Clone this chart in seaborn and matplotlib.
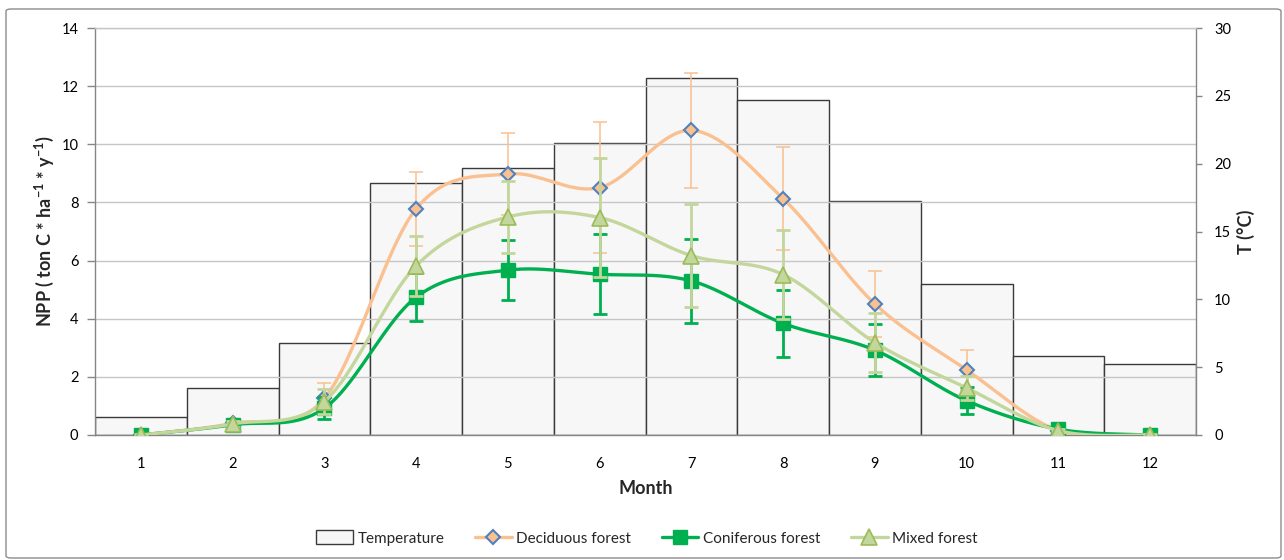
import numpy as np
import pandas as pd
import matplotlib
matplotlib.use("Agg")
import matplotlib.pyplot as plt
import seaborn as sns
from matplotlib.lines import Line2D
from matplotlib.patches import Patch, FancyBboxPatch

# ---- data ----
months = [1, 2, 3, 4, 5, 6, 7, 8, 9, 10, 11, 12]
temperature = [1.35, 3.5, 6.75, 18.6, 19.65, 21.5, 26.35, 24.7, 17.25, 11.1, 5.85, 5.2]

deciduous = [0.0, 0.40, 1.26, 7.78, 8.98, 8.51, 10.48, 8.13, 4.51, 2.24, 0.15, 0.0]
deciduous_err = [0.03, 0.08, 0.52, 1.27, 1.40, 2.26, 1.97, 1.77, 1.13, 0.68, 0.05, 0.02]

coniferous = [0.0, 0.35, 0.92, 4.74, 5.67, 5.53, 5.30, 3.84, 2.92, 1.18, 0.20, 0.0]
coniferous_err = [0.03, 0.08, 0.38, 0.82, 1.04, 1.38, 1.44, 1.14, 0.89, 0.47, 0.06, 0.02]

mixed = [0.0, 0.38, 1.15, 5.82, 7.50, 7.48, 6.17, 5.52, 3.18, 1.62, 0.15, 0.0]
mixed_err = [0.03, 0.10, 0.42, 1.04, 1.24, 2.06, 1.78, 1.53, 1.03, 0.40, 0.05, 0.02]

# ---- style ----
sns.set_theme(style="white")
plt.rcParams["font.family"] = ["Lato", "DejaVu Sans"]
plt.rcParams["mathtext.fontset"] = "custom"
plt.rcParams["mathtext.rm"] = "Lato"
plt.rcParams["mathtext.bf"] = "Lato:bold"

AXIS_GREY = "#868686"
GRID_GREY = "#c6c6c6"
C_DEC = "#fac090"
C_DEC_EDGE = "#4f81bd"
C_CON = "#00b050"
C_MIX = "#c3d69b"
C_MIX_EDGE = "#9bbb59"
TICK_FS = 10.5
LABEL_FS = 13


def smooth_curve(x, y, n=40):
    """Bezier smoothing through every point (Catmull-Rom style control points)."""
    pts = np.column_stack([x, y]).astype(float)
    out = []
    m = len(pts)
    t = np.linspace(0, 1, n)[:, None]
    for i in range(m - 1):
        p0 = pts[i - 1] if i > 0 else pts[i]
        p1 = pts[i]
        p2 = pts[i + 1]
        p3 = pts[i + 2] if i + 2 < m else pts[i + 1]
        c1 = p1 + (p2 - p0) / 6.0
        c2 = p2 - (p3 - p1) / 6.0
        seg = ((1 - t) ** 3) * p1 + 3 * ((1 - t) ** 2) * t * c1 + 3 * (1 - t) * t ** 2 * c2 + t ** 3 * p2
        out.append(seg if i == 0 else seg[1:])
    seg = np.vstack(out)
    return seg[:, 0], seg[:, 1]


W, H = 1284, 560
fig = plt.figure(figsize=(W / 100, H / 100), dpi=100)
fig.patch.set_facecolor("white")

# outer chart frame
frame = FancyBboxPatch((6 / W, 2 / H), 1275 / W, 549 / H,
                       boxstyle="round,pad=0,rounding_size=0.004",
                       transform=fig.transFigure, facecolor="none",
                       edgecolor="#8c8c8c", lw=1.0, zorder=0)
fig.patches.append(frame)

ax = fig.add_axes([95 / W, 125 / H, 1101 / W, 407 / H])

# temperature bars (right-hand scale)
df_t = pd.DataFrame({"Month": months, "Temperature": temperature})
sns.barplot(data=df_t, x="Month", y="Temperature", ax=ax, width=1.0,
            color="#f7f7f7", saturation=1, edgecolor="#3a3a3a", linewidth=1.0)

# NPP curves (left-hand scale) on a twin axis drawn above the bars
ax2 = ax.twinx()

ax.set_xlim(-0.5, 11.5)
ax.set_ylim(0, 30)
ax.set_yticks(np.arange(0, 31, 5))
ax.yaxis.tick_right()
ax.yaxis.set_label_position("right")
ax.set_ylabel("T (°C)", fontsize=LABEL_FS, fontweight="bold", labelpad=4)
ax.set_xlabel("Month", fontsize=LABEL_FS, fontweight="bold", labelpad=6)
ax.set_xticks(range(12))
ax.set_xticklabels([str(m) for m in months])
ax.set_xticks(np.arange(-0.5, 12, 1), minor=True)
ax.tick_params(axis="x", which="major", length=0, pad=16, labelsize=TICK_FS, colors="#000000")
ax.tick_params(axis="x", which="minor", length=5, direction="out", color=AXIS_GREY, width=1)
ax.tick_params(axis="y", which="major", length=4, direction="out", color=AXIS_GREY,
               width=1, pad=9, labelsize=TICK_FS, labelcolor="#000000")
for s in ["left", "right", "top"]:
    ax.spines[s].set_visible(False)
ax.spines["bottom"].set_color(AXIS_GREY)
ax.spines["bottom"].set_linewidth(1)
ax.grid(False)

ax2.set_ylim(0, 14)
ax2.set_yticks(np.arange(0, 15, 2))
ax2.yaxis.tick_left()
ax2.yaxis.set_label_position("left")
ax2.set_ylabel(r"NPP ( ton C * ha$^{\mathbf{-1}}$ * y$^{\mathbf{-1}}$)",
               fontsize=LABEL_FS, fontweight="bold", labelpad=4)
ax2.tick_params(axis="y", length=6, direction="out", color=AXIS_GREY, width=1,
                pad=6, labelsize=TICK_FS, labelcolor="#000000")
ax2.set_axisbelow(True)
ax2.grid(axis="y", color=GRID_GREY, lw=1.0)
ax2.spines["left"].set_color(AXIS_GREY)
ax2.spines["right"].set_color(AXIS_GREY)
ax2.spines["top"].set_color(GRID_GREY)
ax2.spines["bottom"].set_visible(False)
for s in ["left", "right", "top"]:
    ax2.spines[s].set_linewidth(1)

xpos = np.arange(len(months))

series = [
    (deciduous, deciduous_err, C_DEC, dict(marker="D", ms=7.5, mfc=C_DEC, mec=C_DEC_EDGE, mew=1.5), 1.1, 3),
    (coniferous, coniferous_err, C_CON, dict(marker="s", ms=9.5, mfc=C_CON, mec=C_CON, mew=1.0), 2.0, 4),
    (mixed, mixed_err, C_MIX, dict(marker="^", ms=11, mfc=C_MIX, mec=C_MIX_EDGE, mew=1.2), 2.0, 5),
]
for vals, errs, col, mk, elw, z in series:
    sx, sy = smooth_curve(xpos, vals)
    ax2.plot(sx, sy, color=col, lw=2.4, zorder=z, solid_capstyle="round")
    ax2.errorbar(xpos, vals, yerr=errs, fmt="none", ecolor=col, elinewidth=elw,
                 capsize=5, capthick=elw, zorder=z)
    ax2.plot(xpos, vals, linestyle="none", zorder=z + 0.1, **mk)
ax2.set_xlim(-0.5, 11.5)

# legend
handles = [
    Patch(facecolor="#f7f7f7", edgecolor="#3a3a3a", lw=1.0),
    Line2D([], [], color=C_DEC, lw=2.4, **series[0][3]),
    Line2D([], [], color=C_CON, lw=2.4, **series[1][3]),
    Line2D([], [], color=C_MIX, lw=2.4, **series[2][3]),
]
labels = ["Temperature", "Deciduous forest", "Coniferous forest", "Mixed forest"]
fig.legend(handles, labels, loc="center", bbox_to_anchor=(647 / W, 1 - 538 / H),
           ncol=4, frameon=False, fontsize=11, handlelength=2.4, handletextpad=0.3,
           columnspacing=2.0, handleheight=1.0)

fig.savefig("out.png", dpi=100, facecolor="white")
